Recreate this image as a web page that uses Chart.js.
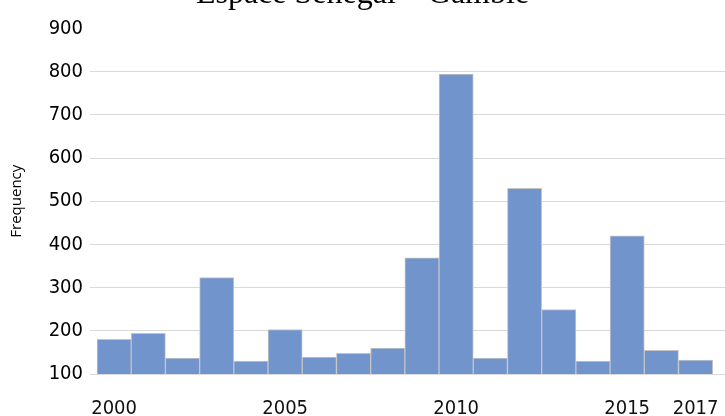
<!DOCTYPE html>
<html lang="fr">
<head>
    <meta charset="UTF-8">
    <title>Espace Sénégal – Gambie</title>
    <script src="https://cdn.jsdelivr.net/npm/chart.js"></script>
    <style>
        html, body {
            margin: 0;
            padding: 0;
            background: #ffffff;
            overflow: hidden;
            width: 725px;
            height: 416px;
        }

        .frame {
            position: absolute;
            left: 0;
            top: -25px;
            width: 725px;
            height: 441px;
        }
    </style>
</head>
<body>
    <div class="frame">
        <canvas id="histChart"></canvas>
    </div>

    <script>
        // Yearly counts
        const years = [2000, 2001, 2002, 2003, 2004, 2005, 2006, 2007, 2008,
                       2009, 2010, 2011, 2012, 2013, 2014, 2015, 2016, 2017];
        const frequencies = [180, 194, 137, 323, 130, 203, 139, 148, 160,
                             369, 794, 137, 530, 249, 130, 420, 155, 132];
        const labelYears = [2000, 2005, 2010, 2015, 2017];
        const yTicks = [100, 200, 300, 400, 500, 600, 700, 800, 900];

        const narrowFont = "'DejaVu Sans Condensed', 'DejaVu Sans', sans-serif";

        const ctx = document.getElementById('histChart').getContext('2d');

        new Chart(ctx, {
            type: 'bar',
            data: {
                datasets: [{
                    label: 'Frequency',
                    data: years.map((y, i) => ({ x: y, y: frequencies[i] })),
                    backgroundColor: '#7294cc',
                    borderColor: '#c4c4c4',
                    borderWidth: 1,
                    barPercentage: 1,
                    categoryPercentage: 1
                }]
            },
            options: {
                responsive: true,
                maintainAspectRatio: false,
                animation: false,
                layout: { padding: 0 },
                plugins: {
                    legend: { display: false },
                    tooltip: { enabled: false },
                    title: {
                        display: true,
                        text: 'Espace Sénégal – Gambie',
                        color: '#000000',
                        font: { family: "'Liberation Serif', 'Times New Roman', serif", size: 32, weight: 'normal' },
                        padding: { top: 0, bottom: 15 }
                    }
                },
                scales: {
                    x: {
                        type: 'linear',
                        offset: false,
                        min: 1999.5,
                        max: 2017.86,
                        grid: { display: false },
                        border: { display: false },
                        afterBuildTicks: (scale) => {
                            scale.ticks = labelYears.map(v => ({ value: v }));
                        },
                        afterFit: (scale) => {
                            scale.height = 42;
                            scale.paddingLeft = 0;
                            scale.paddingRight = 0;
                        },
                        ticks: {
                            autoSkip: false,
                            maxRotation: 0,
                            padding: 15,
                            color: '#111111',
                            font: { family: narrowFont, size: 20 },
                            callback: (v) => String(v)
                        }
                    },
                    y: {
                        min: 100,
                        max: 900,
                        afterBuildTicks: (scale) => {
                            scale.ticks = yTicks.map(v => ({ value: v }));
                        },
                        afterFit: (scale) => { scale.width = 97; },
                        grid: {
                            color: (c) => (c.tick && c.tick.value === 900) ? 'rgba(0,0,0,0)' : '#d9d9d9',
                            tickLength: 7,
                            drawTicks: true
                        },
                        border: { display: false },
                        ticks: {
                            padding: 7,
                            color: '#000000',
                            font: { family: narrowFont, size: 20 }
                        },
                        title: {
                            display: true,
                            text: 'Frequency',
                            color: '#000000',
                            font: { family: "'Open Sans', sans-serif", size: 15 },
                            padding: { top: 8, bottom: 0 }
                        }
                    }
                }
            }
        });
    </script>
</body>
</html>
